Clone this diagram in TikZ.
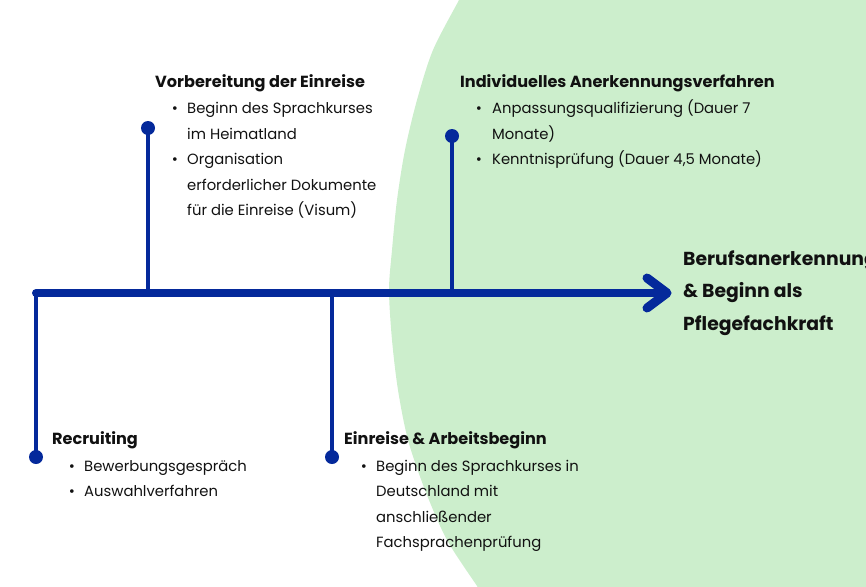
\documentclass[tikz,border=0pt]{standalone}
\usepackage{fontspec}
\setmainfont{Poppins}
\definecolor{tlblue}{RGB}{4,41,155}
\definecolor{tlgreen}{RGB}{204,238,204}
\definecolor{txt}{RGB}{17,17,17}
\begin{document}
\begin{tikzpicture}[x=1pt,y=-1pt,
  body/.style={anchor=base west, inner sep=0pt, font=\fontsize{14.8}{14.8}\selectfont, text=txt},
  bul/.style={anchor=base, inner sep=0pt, font=\fontsize{14.8}{14.8}\selectfont, text=txt},
  head/.style={anchor=base west, inner sep=0pt, font=\fontsize{16.1}{16.1}\selectfont\bfseries, text=txt},
  big/.style={anchor=base west, inner sep=0pt, font=\fontsize{18.8}{18.8}\selectfont\bfseries, text=txt},
  dotnode/.style={circle, fill=tlblue, minimum size=14pt, inner sep=0pt},
  stem/.style={draw=tlblue, line width=3.5pt},
  mainline/.style={draw=tlblue, line width=8pt, line cap=round},
  chevron/.style={draw=tlblue, line width=9pt, line cap=round, line join=round}]
\useasboundingbox (0,0) rectangle (866,586);
\clip (0,0) rectangle (866,586);
% green background shape
\fill[tlgreen] plot[smooth] coordinates {(463,-8) (459,0) (433,50) (417,100) (405,150) (397,200) (392,250) (389,290) (392,340) (398,390) (408,440) (425,490) (447,540) (477,586) (482,594)} -- (870,594) -- (870,-8) -- cycle;

% timeline
\coordinate (start) at (36,293);
\coordinate (tip) at (667,293);
\coordinate (armA) at (647,278);
\coordinate (armB) at (647,308);
\coordinate (jV) at (148,293);
\coordinate (jI) at (452,293);
\coordinate (jR) at (36,293);
\coordinate (jE) at (332,293);

\node[dotnode] (dV) at (148,128) {};
\node[dotnode] (dI) at (452,136) {};
\node[dotnode] (dR) at (36,457) {};
\node[dotnode] (dE) at (332,457) {};

\draw[stem] (dV.center) -- (jV);
\draw[stem] (dI.center) -- (jI);
\draw[stem] (dR.center) -- (jR);
\draw[stem] (dE.center) -- (jE);

\draw[mainline] (start) -- (tip);
\draw[chevron] (armA) -- (tip) -- (armB);

% Vorbereitung der Einreise
\node[head] (hV) at (155,87) {Vorbereitung der Einreise};
\node[bul] (bV1) at (175,113.5) {•};
\node[body] (tV1) at (187,113.5) {Beginn des Sprachkurses};
\node[body] (tV2) at (187,139) {im Heimatland};
\node[bul] (bV2) at (175,164.5) {•};
\node[body] (tV3) at (187,164.5) {Organisation};
\node[body] (tV4) at (187,190) {erforderlicher Dokumente};
\node[body] (tV5) at (187,215.5) {für die Einreise (Visum)};

% Individuelles Anerkennungsverfahren
\node[head] (hI) at (460,87) {Individuelles Anerkennungsverfahren};
\node[bul] (bI1) at (479,113.5) {•};
\node[body] (tI1) at (492,113.5) {Anpassungsqualifizierung (Dauer 7};
\node[body] (tI2) at (492,139) {Monate)};
\node[bul] (bI2) at (479,164.5) {•};
\node[body] (tI3) at (492,164.5) {Kenntnisprüfung (Dauer 4,5 Monate)};

% Goal
\node[big] (g1) at (683,265) {Berufsanerkennung};
\node[big] (g2) at (683,297.5) {\& Beginn als};
\node[big] (g3) at (683,330) {Pflegefachkraft};

% Recruiting
\node[head] (hR) at (52,444) {Recruiting};
\node[bul] (bR1) at (72,471) {•};
\node[body] (tR1) at (84,471) {Bewerbungsgespräch};
\node[bul] (bR2) at (72,496.5) {•};
\node[body] (tR2) at (84,496.5) {Auswahlverfahren};

% Einreise & Arbeitsbeginn
\node[head] (hE) at (344,444) {Einreise \& Arbeitsbeginn};
\node[bul] (bE1) at (364,471) {•};
\node[body] (tE1) at (376,471) {Beginn des Sprachkurses in};
\node[body] (tE2) at (376,496.5) {Deutschland mit};
\node[body] (tE3) at (376,522) {anschließender};
\node[body] (tE4) at (376,547.5) {Fachsprachenprüfung};
\end{tikzpicture}
\end{document}
